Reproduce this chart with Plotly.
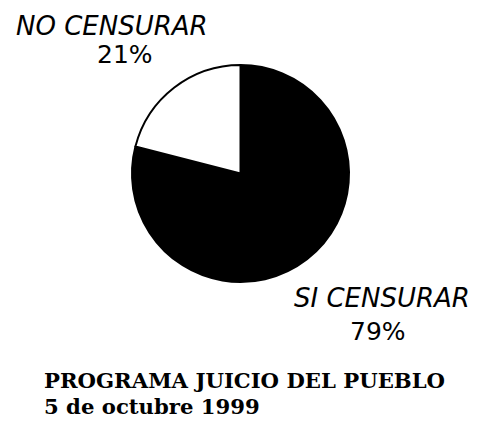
import plotly.graph_objects as go

labels = ["NO CENSURAR", "SI CENSURAR"]
values = [21, 79]
colors = ["white", "black"]
title_lines = ["PROGRAMA JUICIO DEL PUEBLO", "5 de octubre 1999"]

W, H = 477, 422

def px(x):
    return x / W

def py(y):
    return 1 - y / H

# draw SI first clockwise from 12 o'clock so NO sits to the upper-left
order = [1, 0]
fig = go.Figure(go.Pie(
    labels=[labels[i] for i in order],
    values=[values[i] for i in order],
    sort=False,
    direction="clockwise",
    rotation=0,
    marker=dict(colors=[colors[i] for i in order], line=dict(color="black", width=2)),
    textinfo="none",
    hoverinfo="label+percent",
    showlegend=False,
    domain=dict(x=[px(132), px(349)], y=[py(282), py(65)]),
))

pct = [f"{round(v * 100 / sum(values))}%" for v in values]

ann = []
label_pos = [(112, 26), (382, 298)]
pct_pos = [(125, 55), (378, 331)]
for i in range(2):
    ann.append(dict(x=px(label_pos[i][0]), y=py(label_pos[i][1]), xref="paper", yref="paper",
                    text=labels[i], showarrow=False, xanchor="center", yanchor="middle",
                    font=dict(family="DejaVu Sans", size=26, color="black", style="italic")))
    ann.append(dict(x=px(pct_pos[i][0]), y=py(pct_pos[i][1]), xref="paper", yref="paper",
                    text=pct[i], showarrow=False, xanchor="center", yanchor="middle",
                    font=dict(family="DejaVu Sans", size=25, color="black")))

for j, (t, yy) in enumerate(zip(title_lines, [380, 406])):
    ann.append(dict(x=px(42), y=py(yy), xref="paper", yref="paper", text=t,
                    showarrow=False, xanchor="left", yanchor="middle",
                    font=dict(family="DejaVu Serif", size=21.2, color="black", weight="bold")))

fig.update_layout(
    width=W, height=H,
    margin=dict(l=0, r=0, t=0, b=0),
    paper_bgcolor="white", plot_bgcolor="white",
    annotations=ann,
)

fig.write_html("out.html", config={"displayModeBar": False},
               post_script="document.body.style.margin='0';")
